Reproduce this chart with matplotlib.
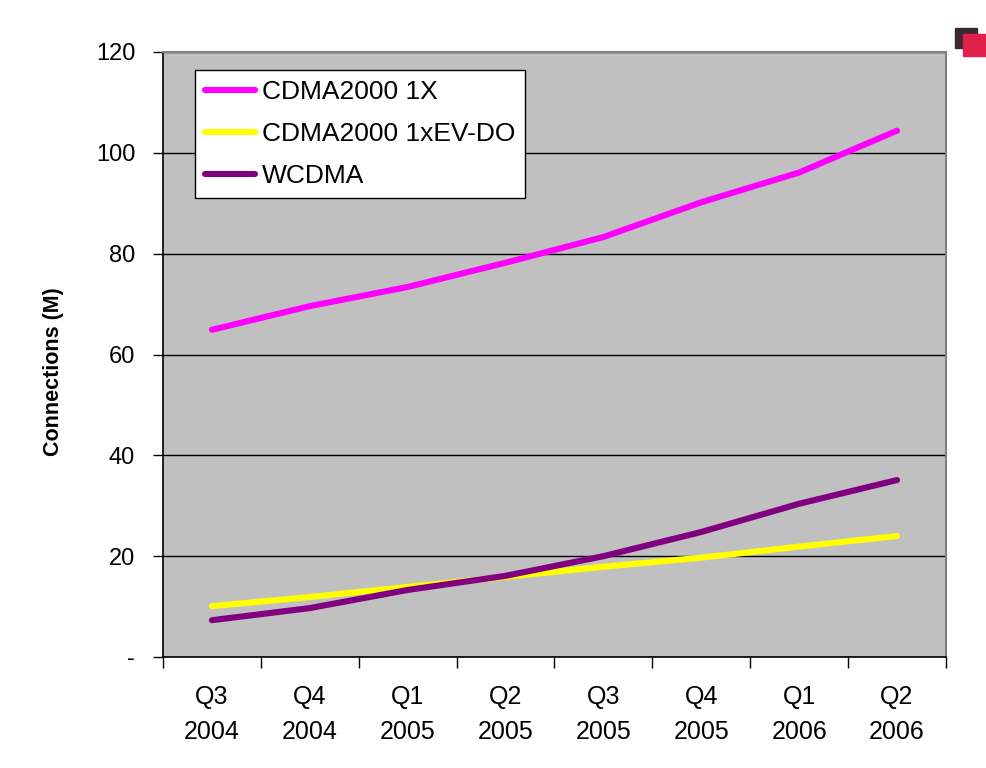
import matplotlib
matplotlib.use("Agg")
import matplotlib.pyplot as plt
from matplotlib.patches import Rectangle
from matplotlib import font_manager
import numpy as np

categories = ["Q3\n2004", "Q4\n2004", "Q1\n2005", "Q2\n2005",
              "Q3\n2005", "Q4\n2005", "Q1\n2006", "Q2\n2006"]
cdma_1x = [64.9, 69.6, 73.4, 78.2, 83.3, 90.2, 96.1, 104.4]
cdma_evdo = [10.1, 11.9, 13.9, 15.9, 17.9, 19.7, 21.9, 24.0]
wcdma = [7.3, 9.7, 13.3, 16.1, 20.0, 24.8, 30.4, 35.1]
series_names = ["CDMA2000 1X", "CDMA2000 1xEV-DO", "WCDMA"]
series_colors = ["#FF00FF", "#FFFF00", "#800080"]
y_ticks = [0, 20, 40, 60, 80, 100, 120]
y_labels = ["-", "20", "40", "60", "80", "100", "120"]

plt.rcParams['font.family'] = ['Liberation Sans', 'DejaVu Sans']

names = {f.name for f in font_manager.fontManager.ttflist}
narrow = 'Liberation Sans Narrow' if 'Liberation Sans Narrow' in names else (
    'DejaVu Sans Condensed' if 'DejaVu Sans Condensed' in names else 'Liberation Sans')

fig = plt.figure(figsize=(9.87, 7.68), dpi=100)
ax = fig.add_axes([163/987, 1-657/768, (946-163)/987, (657-52)/768])
ax.set_facecolor("#C0C0C0")

x = np.arange(len(categories)) + 0.5
for vals, name, col in zip([cdma_1x, cdma_evdo, wcdma], series_names, series_colors):
    ax.plot(x, vals, color=col, lw=4.4, label=name, solid_capstyle='round',
            solid_joinstyle='round', zorder=3)

ax.set_xlim(0, len(categories))
ax.set_ylim(0, 120)
ax.set_yticks(y_ticks)
ax.set_yticklabels(y_labels, fontsize=17)
ax.yaxis.grid(True, color="black", lw=1)
ax.set_axisbelow(True)

ax.set_xticks(np.arange(len(categories) + 1))
ax.set_xticklabels([])
ax.set_xticks(x, minor=True)
ax.set_xticklabels(categories, minor=True, fontsize=18,
                   family=[narrow, 'Liberation Sans'],
                   linespacing=1.6)
ax.tick_params(axis='x', which='minor', length=0, pad=20)
ax.tick_params(axis='x', which='major', length=8, direction='out', width=1)
ax.tick_params(axis='y', which='major', length=7, direction='out', width=1, pad=13)

for s in ['left', 'bottom']:
    ax.spines[s].set_color('black')
    ax.spines[s].set_linewidth(1.2)
for s in ['top', 'right']:
    ax.spines[s].set_color('#808080')
    ax.spines[s].set_linewidth(1.5)

ax.set_ylabel("Connections (M)", fontsize=15.5, fontweight='bold')
ax.yaxis.set_label_coords((64-163)/783, (657-372)/605)

leg = ax.legend(loc='upper left', bbox_to_anchor=((195-163)/783, (657-70)/605),
                fontsize=19, frameon=True, fancybox=False, borderaxespad=0,
                handlelength=1.9, handletextpad=0.25, labelspacing=0.68,
                borderpad=0.38)
leg.get_frame().set_edgecolor('black')
leg.get_frame().set_linewidth(1)
leg.get_frame().set_facecolor('white')
leg.get_frame().set_alpha(1)

# small decorative icon at top right
fig.patches.append(Rectangle((955/987, 1-48/768), 22/987, 20/768,
                             transform=fig.transFigure, color='#3a2a2e', zorder=5))
fig.patches.append(Rectangle((963/987, 1-56/768), 23/987, 22/768,
                             transform=fig.transFigure, color='#e0204a', zorder=6))

fig.savefig("out.png", dpi=100)
